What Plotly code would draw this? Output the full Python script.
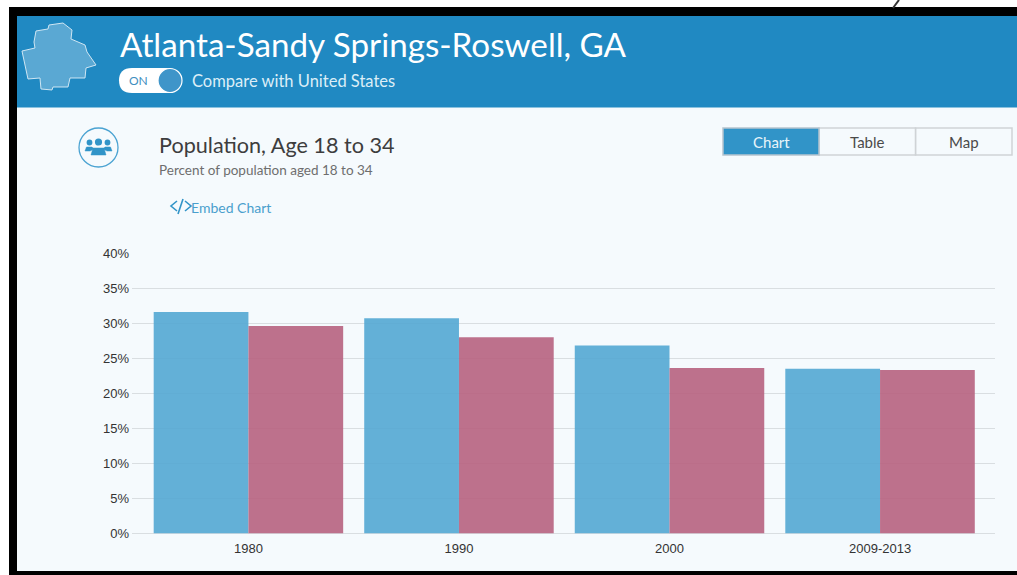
import plotly.graph_objects as go

W, H = 1017, 575

years = ["1980", "1990", "2000", "2009-2013"]
atlanta = [31.6, 30.7, 26.8, 23.5]
united_states = [29.6, 28.0, 23.6, 23.3]
y_ticks = [0, 5, 10, 15, 20, 25, 30, 35, 40]
y_tick_labels = ["0%", "5%", "10%", "15%", "20%", "25%", "30%", "35%", "40%"]


def px(x):
    return x / W


def py(y):
    return 1 - y / H


def rect(x0, y0, x1, y1, fill, line=None, lw=0):
    return dict(type="rect", xref="paper", yref="paper", x0=px(x0), x1=px(x1), y0=py(y1), y1=py(y0),
                fillcolor=fill, line=dict(color=line or fill, width=lw), layer="below")


def circle(cx, cy, r, fill, line=None, lw=0):
    return dict(type="circle", xref="paper", yref="paper", x0=px(cx - r), x1=px(cx + r), y0=py(cy + r), y1=py(cy - r),
                fillcolor=fill, line=dict(color=line or fill, width=lw), layer="above")


def poly(points, fill, line, lw=1, closed=True):
    pts = " L ".join(f"{px(x):.5f} {py(y):.5f}" for x, y in points)
    return dict(type="path", xref="paper", yref="paper", path="M " + pts + (" Z" if closed else ""),
                fillcolor=fill, line=dict(color=line, width=lw), layer="above")


def label(text, x, y, size, color, font="Lato", anchor="left"):
    return dict(text=text, x=px(x), y=py(y), xref="paper", yref="paper", xanchor=anchor, yanchor="middle",
                showarrow=False, font=dict(family=font, size=size, color=color))


HEADER = "#2089c2"
PANEL = "#f5fafd"
BLUE = "#3194c8"

map_outline = [(22, 51), (35, 48), (34, 42), (36, 31), (48, 29), (49, 25), (63, 23), (72, 30), (71, 39),
               (85, 45), (87, 52), (96, 65), (86, 68), (85, 78), (70, 78), (68, 87), (53, 87), (52, 90),
               (41, 89), (40, 78), (28, 79)]

shapes = [
    rect(9, 7, W, H, "#000000"),
    rect(17, 16, W, 571, PANEL),
    rect(17, 16, W, 107.5, HEADER),
    poly([(899, 0), (893, 8)], "rgba(0,0,0,0)", "#333333", 2, closed=False),
    poly(map_outline, "#5aa8d3", "#cfe6f3", 1),
    # toggle
    dict(type="path", xref="paper", yref="paper", layer="above", fillcolor="#ffffff", line=dict(color="#ffffff", width=0),
         path=f"M {px(132)} {py(68)} L {px(170)} {py(68)} L {px(170)} {py(93)} L {px(132)} {py(93)} "
              f"Q {px(119)} {py(93)} {px(119)} {py(80.5)} Q {px(119)} {py(68)} {px(132)} {py(68)} Z"),
    circle(170, 80.5, 12, "#3f95c9", "#ffffff", 1.2),
    # people icon
    circle(98.5, 147.5, 19.5, "rgba(0,0,0,0)", "#4ba3d2", 1.3),
    circle(98.5, 142, 3.6, "#3194c8"),
    circle(89.5, 142.5, 2.9, "#3194c8"),
    circle(107.5, 142.5, 2.9, "#3194c8"),
    poly([(85, 151), (86.5, 147), (92, 147), (94, 149), (90, 151)], "#3194c8", "#3194c8", 0.5),
    poly([(112, 151), (110.5, 147), (105, 147), (103, 149), (107, 151)], "#3194c8", "#3194c8", 0.5),
    poly([(91, 155), (93, 148), (104, 148), (106, 155)], "#3194c8", "#3194c8", 0.5),
    # embed glyph
    poly([(177, 201), (171, 206), (177, 211)], "rgba(0,0,0,0)", "#3194c8", 1.6, closed=False),
    poly([(183, 199), (178, 214)], "rgba(0,0,0,0)", "#3194c8", 1.6, closed=False),
    poly([(185, 201), (191, 206), (185, 211)], "rgba(0,0,0,0)", "#3194c8", 1.6, closed=False),
    # tab buttons
    rect(915.5, 128, 1012, 155, PANEL, "#cfd3d6", 1.5),
    rect(819, 128, 915.5, 155, PANEL, "#cfd3d6", 1.5),
    rect(723, 128, 819, 155, "#3194c8", "#b5c4ce", 1.5),
]

annotations = [
    label("Atlanta-Sandy Springs-Roswell, GA", 118, 44, 33.2, "#ffffff"),
    label("ON", 127, 81, 12, "#3f8fc0"),
    label("Compare with United States", 190, 81.5, 16.5, "#dceef7"),
    label("Population, Age 18 to 34", 157, 144.5, 21.6, "#3d3d3d"),
    label("Percent of population aged 18 to 34", 157, 169.5, 13.5, "#6e6e6e"),
    label("Embed Chart", 189, 208, 14, "#4a9fcd"),
    label("Chart", 771, 141.5, 15, "#e8f4fa", anchor="center"),
    label("Table", 867.5, 141.5, 15, "#4a4a4a", anchor="center"),
    label("Map", 964, 141.5, 15, "#4a4a4a", anchor="center"),
]

fig = go.Figure()
fig.add_bar(x=years, y=atlanta, name="Atlanta-Sandy Springs-Roswell, GA",
            marker=dict(color="rgba(83,167,211,0.9)", line=dict(width=0)))
fig.add_bar(x=years, y=united_states, name="United States",
            marker=dict(color="rgba(183,98,127,0.9)", line=dict(width=0)))

fig.update_layout(
    template="none",
    width=W, height=H, autosize=False,
    margin=dict(l=0, r=0, t=0, b=0, pad=0, autoexpand=False),
    paper_bgcolor="#ffffff", plot_bgcolor="rgba(0,0,0,0)",
    barmode="group", bargap=0.1, bargroupgap=0,
    showlegend=False, hovermode=False,
    shapes=shapes, annotations=annotations,
    font=dict(family="Liberation Sans", size=13, color="#333333"),
    xaxis=dict(domain=[px(132), px(995)], range=[-0.553, 3.546], type="category", automargin=False,
               showgrid=False, zeroline=False, showline=False, ticks="",
               tickfont=dict(size=13, color="#333333"), ticklabelstandoff=5),
    yaxis=dict(domain=[py(533.5), py(253)], range=[0, 40], tickvals=y_ticks, ticktext=y_tick_labels, automargin=False,
               showgrid=True, gridcolor="#d9dee1", gridwidth=1, zeroline=True, zerolinecolor="#d9dee1",
               showline=False, ticks="", tickfont=dict(size=13, color="#333333"), ticklabelstandoff=2),
)

fig.write_html("out.html", config=dict(displayModeBar=False),
               post_script="document.body.style.margin='0';document.body.style.overflow='hidden';")
